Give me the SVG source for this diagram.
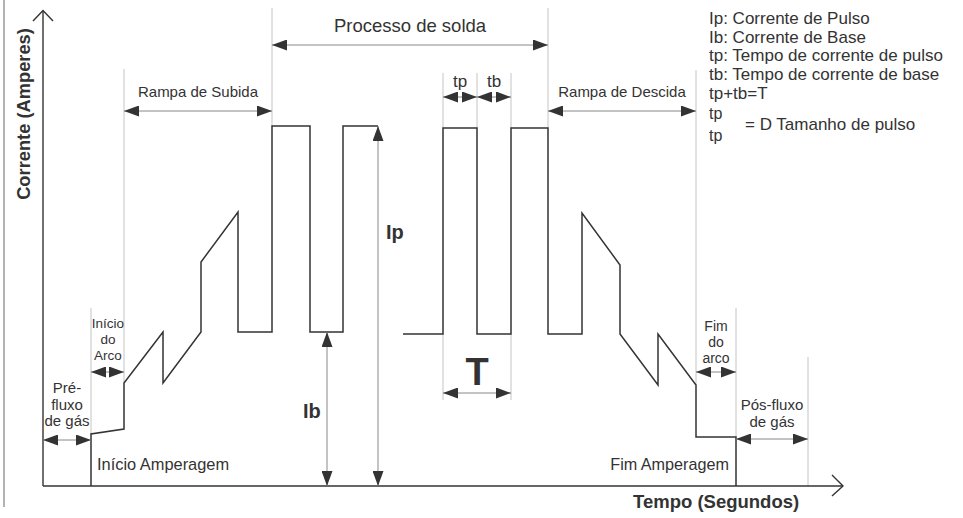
<svg xmlns="http://www.w3.org/2000/svg" width="963" height="518" viewBox="0 0 963 518">
<style>
  .t { font-family: "Liberation Sans", Arial, sans-serif; fill: #333; }
  .b { font-weight: bold; }
  .wave { fill: none; stroke: #333; stroke-width: 1.5; stroke-linejoin: miter; }
  .axis { fill: none; stroke: #333; stroke-width: 1.4; }
  .guide { stroke: #c4c4c4; stroke-width: 1; }
  .arr { stroke: #888; stroke-width: 1; marker-start: url(#ah); marker-end: url(#ah); }
</style>
<defs>
  <marker id="ah" markerUnits="userSpaceOnUse" markerWidth="15" markerHeight="11" refX="15" refY="5.5" orient="auto-start-reverse">
    <path d="M0,0 L15,5.5 L0,11 z" fill="#333"/>
  </marker>
</defs>
<rect width="963" height="518" fill="#fff"/>
<line x1="4" y1="0" x2="4" y2="507" stroke="#666" stroke-width="1"/>

<g id="guides">
  <line class="guide" x1="91" y1="308" x2="91" y2="434"/>
  <line class="guide" x1="124" y1="69" x2="124" y2="383"/>
  <line class="guide" x1="272" y1="8" x2="272" y2="126"/>
  <line class="guide" x1="548" y1="8" x2="548" y2="128"/>
  <line class="guide" x1="443" y1="73" x2="443" y2="128"/>
  <line class="guide" x1="477" y1="73" x2="477" y2="128"/>
  <line class="guide" x1="511" y1="73" x2="511" y2="128"/>
  <line class="guide" x1="443" y1="334" x2="443" y2="400"/>
  <line class="guide" x1="511" y1="334" x2="511" y2="400"/>
  <line class="guide" x1="696" y1="70" x2="696" y2="385"/>
  <line class="guide" x1="736" y1="308" x2="736" y2="437"/>
  <line class="guide" x1="808" y1="357" x2="808" y2="486"/>
</g>

<g id="axes">
  <line class="axis" x1="43" y1="11" x2="43" y2="486"/>
  <polyline class="axis" points="33,21 43,10.5 53,21"/>
  <line class="axis" x1="43" y1="486" x2="842" y2="486"/>
  <polyline class="axis" points="832,475 843,486 832,496"/>
  <text class="t b" font-size="18.3" text-anchor="middle" transform="translate(30,114) rotate(-90)">Corrente (Amperes)</text>
  <text class="t b" font-size="18.5" x="633" y="508">Tempo (Segundos)</text>
</g>

<g id="waveform">
  <path class="wave" d="M91,486 L91,434 L124,429 L124,383 L163,332 L163,383 L201,332 L201,262 L238,212 L238,332 L272,332 L272,126 L310,126 L310,332 L343,332 L343,126 L378,126"/>
  <path class="wave" d="M403,334 L443,334 L443,128 L477,128 L477,334 L511,334 L511,128 L548,128 L548,334 L582,334 L582,213 L620,265 L620,334 L658,385 L658,334 L696,385 L696,437 L736,437 L736,486"/>
</g>

<g id="connectors">
  <line class="arr" x1="272" y1="45" x2="548" y2="45"/>
  <line class="arr" x1="124" y1="111" x2="272" y2="111"/>
  <line class="arr" x1="548" y1="111" x2="696" y2="111"/>
  <line class="arr" x1="443" y1="97" x2="477" y2="97"/>
  <line class="arr" x1="477" y1="97" x2="511" y2="97"/>
  <line class="arr" x1="443" y1="393" x2="511" y2="393"/>
  <line class="arr" x1="378" y1="126" x2="378" y2="486"/>
  <line class="arr" x1="327" y1="332" x2="327" y2="486"/>
  <line class="arr" x1="91" y1="372" x2="124" y2="372"/>
  <line class="arr" x1="43" y1="440" x2="91" y2="440"/>
  <line class="arr" x1="696" y1="372" x2="736" y2="372"/>
  <line class="arr" x1="736" y1="439" x2="808" y2="439"/>
</g>

<g id="labels">
  <text class="t" font-size="18.5" x="410" y="32" text-anchor="middle">Processo de solda</text>
  <text class="t" font-size="15" x="198" y="97" text-anchor="middle">Rampa de Subida</text>
  <text class="t" font-size="15" x="622" y="97" text-anchor="middle">Rampa de Descida</text>
  <text class="t" font-size="17" x="460" y="87" text-anchor="middle">tp</text>
  <text class="t" font-size="17" x="494" y="87" text-anchor="middle">tb</text>
  <text class="t b" font-size="38" x="477" y="385" text-anchor="middle">T</text>
  <text class="t b" font-size="20" x="386" y="239">Ip</text>
  <text class="t b" font-size="20" x="303" y="418">Ib</text>
  <text class="t" font-size="13.5" text-anchor="middle"><tspan x="108" y="328">Início</tspan><tspan x="108" y="344">do</tspan><tspan x="108" y="360">Arco</tspan></text>
  <text class="t" font-size="15" text-anchor="middle"><tspan x="67" y="393">Pré-</tspan><tspan x="67" y="409.5">fluxo</tspan><tspan x="67" y="426">de gás</tspan></text>
  <text class="t" font-size="14" text-anchor="middle"><tspan x="716" y="331">Fim</tspan><tspan x="716" y="347">do</tspan><tspan x="716" y="363">arco</tspan></text>
  <text class="t" font-size="15" text-anchor="middle"><tspan x="772" y="410">Pós-fluxo</tspan><tspan x="772" y="427">de gás</tspan></text>
  <text class="t" font-size="16.4" x="97" y="470">Início Amperagem</text>
  <text class="t" font-size="16.2" x="729" y="470" text-anchor="end">Fim Amperagem</text>
</g>

<g id="legend">
  <text class="t" font-size="17" x="709" y="24">Ip: Corrente de Pulso</text>
  <text class="t" font-size="17" x="709" y="43">Ib: Corrente de Base</text>
  <text class="t" font-size="17" x="709" y="61">tp: Tempo de corrente de pulso</text>
  <text class="t" font-size="17" x="709" y="80">tb: Tempo de corrente de base</text>
  <text class="t" font-size="17" x="709" y="99">tp+tb=T</text>
  <text class="t" font-size="16" x="709" y="119">tp</text>
  <text class="t" font-size="16" x="709" y="141">tp</text>
  <text class="t" font-size="17" x="745" y="130">= D Tamanho de pulso</text>
</g>
</svg>
